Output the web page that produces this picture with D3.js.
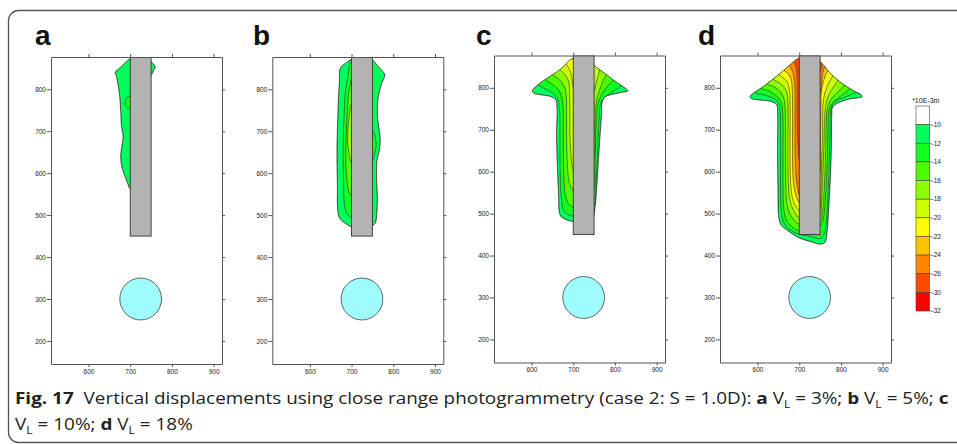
<!DOCTYPE html>
<html>
<head>
<meta charset="utf-8">
<script src="https://cdn.jsdelivr.net/npm/d3@7"></script>
<style>
    body { margin: 0; background: #fff; }
    svg { display: block; }
    .tick text { font-family: "Liberation Sans", Arial, sans-serif; font-size: 6.5px; fill: #222; }
    .tick line { stroke: #555; }
    .domain { stroke: #555; }
</style>
</head>
<body>
<div id="fig"></div>
<script>
// axis ticks and legend
const xTicks = [600, 700, 800, 900];
const yTicks = [200, 300, 400, 500, 600, 700, 800];
const panelNames = ["a", "b", "c", "d"];
const legendLevels = [-10, -12, -14, -16, -18, -20, -22, -24, -26, -30, -32];
const bandColors = ["#ffffff", "#00ff5c", "#12ff22", "#4cff00", "#8cff00", "#ccff00", "#ffff00",
    "#ffc200", "#ff8800", "#ff4a00", "#ff0000"];

// pile and tunnel (mm)
const pile = { x0: 700, x1: 750, y0: 450 };
const tunnel = { cx: 725, cy: 300, r: 50 };

// contour outlines, [x, y] in mm
// panel a, VL = 3%
const aOuterL = [[700, 873], [690, 865], [676, 852], [664, 840], [667, 830], [670, 815], [674, 790], [677, 750],
    [679, 712], [683, 688], [680, 664], [677, 640], [680, 615], [686, 596], [693, 578], [700, 563], [720, 563], [720, 873]];
const aOuterR = [[750, 866], [754, 862], [760, 853], [757, 847], [753, 838], [750, 833], [735, 833], [735, 866]];
const aLens12 = [[700, 784], [693, 781], [688, 773], [688, 763], [693, 756], [700, 753], [715, 753], [715, 784]];

// panel b, VL = 5%
const bOuter = [[700, 871], [688, 864], [673, 850], [671, 820], [669, 790], [667, 734], [665, 654], [666, 575],
    [667, 511], [671, 493], [684, 481], [700, 472], [725, 468], [750, 475], [757, 481], [760, 497], [762, 543],
    [760, 591], [761, 630], [767, 655], [769, 683], [765, 712], [762, 740], [764, 780], [771, 810], [780, 835],
    [776, 841], [762, 857], [750, 870], [725, 874]];
const bL12 = [[700, 867], [696, 861], [691, 830], [685, 790], [682, 734], [680, 654], [681, 575], [683, 525],
    [690, 502], [700, 496], [716, 496], [716, 867]];
const bR12 = [[750, 703], [755, 692], [759, 668], [755, 646], [750, 630], [736, 630], [736, 703]];
const bL14 = [[700, 826], [698, 818], [693, 790], [689, 734], [687, 686], [686, 638], [688, 592], [692, 562],
    [700, 544], [716, 544], [716, 826]];
const bL16 = [[700, 765], [695, 740], [691, 700], [691, 665], [695, 642], [700, 625], [716, 625], [716, 765]];

// panel c, VL = 10%
const cOuter = [[700, 869], [694, 868], [678, 852], [658, 836], [630, 818], [602, 793], [606, 787], [646, 779],
    [658, 771], [661, 751], [660, 691], [662, 611], [665, 539], [666, 508], [670, 494], [682, 486], [700, 481],
    [725, 482], [749, 495], [751, 505], [754, 531], [758, 587], [762, 651], [766, 710], [768, 740], [769, 764],
    [776, 778], [806, 787], [831, 793], [826, 798], [800, 816], [776, 834], [758, 847], [749, 855], [725, 872]];
const c12 = [[608, 820], [618, 806], [640, 794], [656, 783], [664, 770], [667, 750], [668, 700], [668, 640],
    [669, 580], [672, 532], [678, 506], [690, 497], [700, 494], [712, 484], [738, 490], [750, 502], [753, 540],
    [756, 600], [759, 670], [762, 725], [765, 760], [771, 772], [790, 788], [813, 803], [822, 818],
    [790, 900], [725, 920], [660, 900]];
const c14 = [[626, 834], [634, 819], [652, 807], [666, 793], [673, 775], [676, 748], [676, 690], [677, 610],
    [680, 550], [688, 524], [700, 515], [712, 503], [738, 550], [750, 562], [752, 620], [754, 690], [756, 735],
    [760, 765], [772, 790], [786, 808], [796, 818], [804, 832], [780, 900], [725, 920], [670, 910]];
const c16 = [[642, 847], [650, 832], [666, 820], [678, 804], [683, 782], [684, 745], [684, 690], [686, 615],
    [691, 572], [700, 555], [712, 543], [738, 630], [750, 642], [752, 700], [753, 745], [757, 775], [765, 800],
    [774, 822], [780, 832], [788, 845], [760, 910], [725, 920], [680, 910]];
const c18 = [[658, 860], [666, 845], [680, 832], [689, 815], [691, 792], [692, 745], [692, 690], [695, 635],
    [700, 605], [712, 593], [738, 780], [750, 792], [755, 812], [760, 830], [764, 843], [772, 855],
    [750, 910], [725, 920], [690, 905]];
const c20 = [[674, 873], [682, 858], [692, 842], [697, 822], [700, 802], [716, 802], [716, 900]];

// panel d, VL = 18%
const dOuter = [[698, 870], [682, 858], [650, 831], [618, 806], [582, 779], [586, 774], [634, 767], [646, 759],
    [648, 743], [648, 651], [649, 555], [651, 490], [657, 472], [676, 457], [700, 442], [728, 433], [752, 427],
    [762, 432], [767, 458], [771, 515], [774, 571], [777, 651], [778, 731], [781, 755], [812, 771], [851, 779],
    [846, 785], [834, 791], [802, 811], [778, 831], [758, 854], [750, 862], [725, 873]];
const d12 = [[586, 797], [594, 788], [615, 783], [636, 776], [650, 765], [654, 745], [655, 700], [655, 600],
    [656, 520], [660, 487], [671, 467], [694, 453], [725, 446], [752, 441], [760, 452], [765, 480], [769, 540],
    [772, 620], [774, 700], [775, 740], [783, 764], [808, 777], [830, 786], [838, 790], [846, 800],
    [800, 900], [725, 920], [640, 900]];
const d14 = [[600, 810], [608, 799], [628, 792], [645, 781], [656, 767], [660, 745], [661, 650], [661, 560],
    [663, 510], [670, 483], [686, 466], [700, 459], [725, 462], [750, 470], [758, 490], [763, 540], [767, 620],
    [769, 700], [770, 738], [778, 762], [798, 779], [818, 795], [824, 801], [832, 812],
    [790, 905], [725, 920], [650, 905]];
const d16 = [[614, 822], [622, 810], [640, 802], [655, 790], [663, 775], [666, 752], [667, 650], [668, 560],
    [671, 520], [680, 495], [700, 474], [725, 476], [750, 481], [756, 505], [760, 560], [763, 640], [765, 720],
    [767, 748], [775, 771], [793, 790], [808, 807], [810, 813], [818, 824], [780, 905], [725, 920], [660, 905]];
const d18 = [[628, 833], [636, 821], [652, 812], [665, 800], [671, 785], [673, 760], [673, 650], [674, 570],
    [678, 530], [688, 505], [700, 490], [725, 490], [750, 496], [753, 520], [756, 580], [759, 660], [761, 730],
    [764, 762], [771, 784], [785, 806], [796, 822], [804, 834], [775, 905], [725, 920], [665, 905]];
const d20 = [[642, 844], [650, 832], [664, 822], [673, 810], [677, 790], [678, 760], [678, 650], [679, 580],
    [683, 540], [691, 518], [700, 506], [712, 496], [738, 502], [750, 515], [752, 550], [754, 620], [756, 700],
    [757, 760], [762, 790], [772, 814], [784, 833], [792, 844], [770, 905], [725, 920], [670, 905]];
const d22 = [[655, 854], [663, 842], [674, 833], [681, 818], [683, 795], [684, 760], [684, 650], [685, 590],
    [689, 555], [700, 525], [712, 513], [738, 588], [750, 600], [751, 660], [752, 740], [753, 790], [759, 818],
    [765, 835], [772, 844], [780, 854], [760, 905], [725, 920], [680, 905]];
const d24 = [[668, 865], [676, 853], [684, 840], [688, 822], [690, 795], [690, 700], [691, 620], [694, 575],
    [700, 546], [712, 534], [738, 778], [750, 790], [754, 822], [759, 845], [763, 851], [770, 862],
    [745, 910], [725, 920], [690, 910]];
const d26 = [[680, 874], [688, 862], [693, 846], [695, 820], [695, 760], [696, 690], [698, 650], [700, 630],
    [712, 618], [738, 824], [750, 836], [753, 850], [756, 858], [762, 868], [740, 910], [725, 920], [700, 910]];

const panelContours = [
    [{ level: -10, pts: aOuterL }, { level: -10, pts: aOuterR }, { level: -12, pts: aLens12 }],
    [{ level: -10, pts: bOuter }, { level: -12, pts: bL12 }, { level: -12, pts: bR12 },
        { level: -14, pts: bL14 }, { level: -16, pts: bL16 }],
    [{ level: -10, pts: cOuter }, { level: -12, pts: c12 }, { level: -14, pts: c14 },
        { level: -16, pts: c16 }, { level: -18, pts: c18 }, { level: -20, pts: c20 }],
    [{ level: -10, pts: dOuter }, { level: -12, pts: d12 }, { level: -14, pts: d14 }, { level: -16, pts: d16 },
        { level: -18, pts: d18 }, { level: -20, pts: d20 }, { level: -22, pts: d22 }, { level: -24, pts: d24 },
        { level: -26, pts: d26 }]
];

// layout
const W = 957, H = 444;
const plotW = 171, plotH = 307;
const panelPos = [[51, 57], [272.3, 57], [494, 55.5], [720, 55.5]];
const letterPos = [[35, 45], [253, 45], [476, 45], [698, 45]];

const levelColor = lv => bandColors[legendLevels.indexOf(lv) + 1];

const svg = d3.select("#fig").append("svg")
    .attr("width", W)
    .attr("height", H);

// rounded card border
svg.append("rect")
    .attr("x", 8.5).attr("y", 10.5)
    .attr("width", 980).attr("height", 432)
    .attr("rx", 10)
    .attr("fill", "none")
    .attr("stroke", "#555")
    .attr("stroke-width", 1.3);

const x = d3.scaleLinear().domain([510, 920]).range([0, plotW]);
const y = d3.scaleLinear().domain([145, 877]).range([plotH, 0]);

const shape = d3.line()
    .x(d => x(d[0]))
    .y(d => y(d[1]))
    .curve(d3.curveCatmullRomClosed.alpha(0.5));

const defs = svg.append("defs");

panelNames.forEach((name, i) => {
    const contours = panelContours[i];
    const g = svg.append("g")
        .attr("transform", "translate(" + panelPos[i][0] + "," + panelPos[i][1] + ")");

    // panel letter
    svg.append("text")
        .attr("x", letterPos[i][0])
        .attr("y", letterPos[i][1])
        .attr("font-family", "Liberation Sans, Arial, sans-serif")
        .attr("font-weight", "bold")
        .attr("font-size", 28)
        .attr("fill", "#111")
        .text(name);

    defs.append("clipPath").attr("id", "plot-" + name)
        .append("rect").attr("width", plotW).attr("height", plotH);

    const region = defs.append("clipPath").attr("id", "region-" + name);
    region.selectAll("path")
        .data(contours.filter(c => c.level === -10))
        .join("path")
        .attr("d", c => shape(c.pts));

    const plot = g.append("g").attr("clip-path", "url(#plot-" + name + ")");

    // filled bands
    plot.append("g")
        .attr("clip-path", "url(#region-" + name + ")")
        .selectAll("path")
        .data(contours)
        .join("path")
        .attr("d", c => shape(c.pts))
        .attr("fill", c => levelColor(c.level))
        .attr("stroke", "#2b2b2b")
        .attr("stroke-width", 0.6);

    // outer contour line
    plot.append("g")
        .selectAll("path")
        .data(contours.filter(c => c.level === -10))
        .join("path")
        .attr("d", c => shape(c.pts))
        .attr("fill", "none")
        .attr("stroke", "#2b2b2b")
        .attr("stroke-width", 0.7);

    // pile
    plot.append("rect")
        .attr("x", x(pile.x0))
        .attr("y", 0)
        .attr("width", x(pile.x1) - x(pile.x0))
        .attr("height", y(pile.y0))
        .attr("fill", "#b3b3b3")
        .attr("stroke", "#333")
        .attr("stroke-width", 0.9);

    // tunnel
    plot.append("ellipse")
        .attr("cx", x(tunnel.cx))
        .attr("cy", y(tunnel.cy))
        .attr("rx", x(tunnel.cx + tunnel.r) - x(tunnel.cx))
        .attr("ry", y(tunnel.cy - tunnel.r) - y(tunnel.cy))
        .attr("fill", "#a0fdfd")
        .attr("stroke", "#555")
        .attr("stroke-width", 0.9);

    // axes, all four sides
    g.append("g")
        .attr("transform", "translate(0," + plotH + ")")
        .call(d3.axisBottom(x).tickValues(xTicks).tickSize(3).tickSizeOuter(0).tickPadding(2));
    g.append("g")
        .call(d3.axisTop(x).tickValues(xTicks).tickSize(3).tickSizeOuter(0).tickFormat(""));
    g.append("g")
        .call(d3.axisLeft(y).tickValues(yTicks).tickSize(4).tickSizeOuter(0).tickPadding(1));
    g.append("g")
        .attr("transform", "translate(" + plotW + ",0)")
        .call(d3.axisRight(y).tickValues(yTicks).tickSize(3).tickSizeOuter(0).tickFormat(""));
});

// colour bar next to panel d
const barX = 916, barW = 13.5;
const bar = d3.scaleLinear().domain([0, bandColors.length]).range([106, 311]);
const legend = svg.append("g");

legend.selectAll("rect")
    .data(bandColors)
    .join("rect")
    .attr("x", barX)
    .attr("y", (d, i) => bar(i))
    .attr("width", barW)
    .attr("height", (d, i) => bar(i + 1) - bar(i))
    .attr("fill", d => d)
    .attr("stroke", "#444")
    .attr("stroke-width", 0.6);

legend.selectAll("line")
    .data(legendLevels)
    .join("line")
    .attr("x1", barX + barW).attr("x2", barX + barW + 2.5)
    .attr("y1", (d, i) => bar(i + 1)).attr("y2", (d, i) => bar(i + 1))
    .attr("stroke", "#444").attr("stroke-width", 0.6);

legend.selectAll("text.lv")
    .data(legendLevels)
    .join("text")
    .attr("class", "lv")
    .attr("x", barX + barW + 2)
    .attr("y", (d, i) => bar(i + 1))
    .attr("dy", "0.35em")
    .attr("font-family", "Liberation Sans, Arial, sans-serif")
    .attr("font-size", 6.5)
    .attr("fill", "#222")
    .text(d => d);

legend.append("text")
    .attr("x", barX + barW / 2 + 3)
    .attr("y", 103)
    .attr("text-anchor", "middle")
    .attr("font-family", "Liberation Sans, Arial, sans-serif")
    .attr("font-size", 7)
    .attr("fill", "#222")
    .text("*10E-3m");

// caption
const captionLine1 = [
    { t: "Fig. 17", b: true }, { t: "  Vertical displacements using close range photogrammetry (case 2: S = 1.0D): " },
    { t: "a", b: true }, { t: " V" }, { t: "L", sub: true }, { t: " = 3%; " },
    { t: "b", b: true }, { t: " V" }, { t: "L", sub: true }, { t: " = 5%; " }, { t: "c", b: true }
];
const captionLine2 = [
    { t: "V" }, { t: "L", sub: true }, { t: " = 10%; " }, { t: "d", b: true }, { t: " V" }, { t: "L", sub: true },
    { t: " = 18%" }
];

function writeLine(parts, baseline) {
    const txt = svg.append("text")
        .attr("transform", "translate(15," + baseline + ")")
        .attr("font-family", "Open Sans, Noto Sans, sans-serif")
        .attr("font-size", 15.5)
        .attr("fill", "#222")
        .style("white-space", "pre");
    let shifted = false;
    parts.forEach(p => {
        const ts = txt.append("tspan").text(p.t);
        if (p.b) ts.attr("font-weight", "bold");
        if (p.sub) { ts.attr("dy", 4).attr("font-size", 10); shifted = true; }
        else if (shifted) { ts.attr("dy", -4); shifted = false; }
    });
    return txt;
}

const line1 = writeLine(captionLine1, 404);
const line2 = writeLine(captionLine2, 430);
const sx = 934 / line1.node().getComputedTextLength();
line1.attr("transform", "translate(15,404) scale(" + sx + ",1)");
line2.attr("transform", "translate(15,430) scale(" + sx + ",1)");
</script>
</body>
</html>
